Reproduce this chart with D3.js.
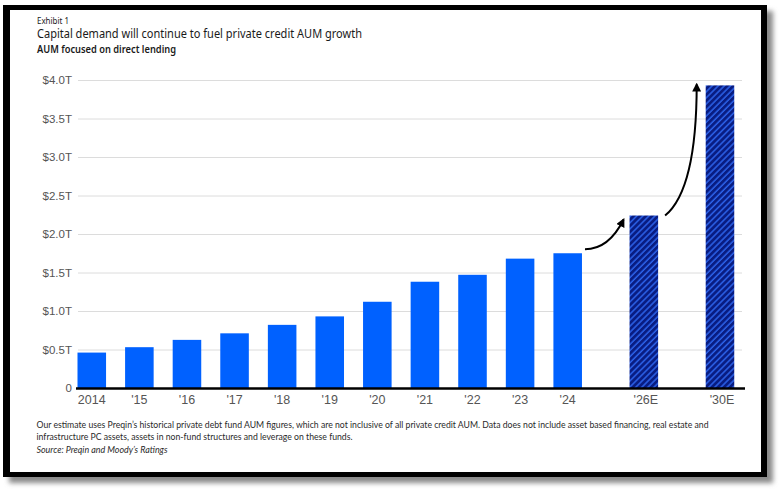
<!DOCTYPE html>
<html lang="en">
<head>
    <meta charset="UTF-8">
    <title>Private credit AUM</title>
    <script src="https://d3js.org/d3.v7.min.js"></script>
</head>
<body style="margin:0;background:#fff;">
<style>
    svg { display: block; }
    .ylab text { font: 11.5px "Liberation Sans", Arial, sans-serif; fill: #555; }
    .xlab text { font: 12.5px "Liberation Sans", Arial, sans-serif; fill: #555; }
    .head { font-family: "Noto Sans", Lato, sans-serif; fill: #1a1a1a; }
    .note { font-family: Lato, "Noto Sans", sans-serif; fill: #2a2a2a; font-size: 9.5px; }
</style>

<div id="chart"></div>

<script>
    // data
    var years = ["2014", "'15", "'16", "'17", "'18", "'19", "'20", "'21", "'22", "'23", "'24"];
    var aum = [0.46, 0.53, 0.625, 0.71, 0.82, 0.93, 1.12, 1.38, 1.47, 1.68, 1.75];
    var estYears = ["'26E", "'30E"];
    var estAum = [2.24, 3.93];
    var yTicks = [0, 0.5, 1, 1.5, 2, 2.5, 3, 3.5, 4];
    var yTickLabels = ["0", "$0.5T", "$1.0T", "$1.5T", "$2.0T", "$2.5T", "$3.0T", "$3.5T", "$4.0T"];

    var W = 780, H = 492;
    var plot = {left: 78, right: 742, top: 80, bottom: 388};
    var estGap = 1.6; // estimate bars sit 1.6 slots apart

    // one row per bar, slot = position along the x axis
    var rows = years.map(function (d, i) {
        return {label: d, value: aum[i], slot: i, est: false};
    });
    estAum.forEach(function (v, k) {
        rows.push({label: estYears[k], value: v, slot: years.length - 1 + estGap * (k + 1), est: true});
    });
    var lastSlot = rows[rows.length - 1].slot;

    var svg = d3.select("#chart").append("svg")
        .attr("width", W)
        .attr("height", H);

    var defs = svg.append("defs");
    defs.append("filter").attr("id", "shadow")
        .attr("x", "-5%").attr("y", "-5%").attr("width", "110%").attr("height", "110%")
        .append("feGaussianBlur").attr("stdDeviation", 2.5);

    var pat = defs.append("pattern").attr("id", "hatch")
        .attr("patternUnits", "userSpaceOnUse")
        .attr("width", 4.3).attr("height", 4.3)
        .attr("patternTransform", "rotate(45)");
    pat.append("rect").attr("width", 4.3).attr("height", 4.3).attr("fill", "#081c82");
    pat.append("line").attr("x1", 1).attr("x2", 1).attr("y1", 0).attr("y2", 4.3)
        .attr("stroke", "#2c62ea").attr("stroke-width", 1.5);

    defs.append("marker").attr("id", "head")
        .attr("viewBox", "0 0 10 10")
        .attr("refX", 8).attr("refY", 5)
        .attr("markerWidth", 4.5).attr("markerHeight", 4.5)
        .attr("markerUnits", "strokeWidth")
        .attr("orient", "auto")
        .append("path").attr("d", "M0,0 L10,5 L0,10 z").attr("fill", "#000");

    // frame with drop shadow
    svg.append("rect").attr("x", 9).attr("y", 11).attr("width", 764).attr("height", 472)
        .attr("fill", "#8a8a8a").attr("filter", "url(#shadow)");
    svg.append("rect").attr("x", 3).attr("y", 5).attr("width", 764).attr("height", 472).attr("fill", "#000");
    svg.append("rect").attr("x", 10).attr("y", 10).attr("width", 751).attr("height", 462).attr("fill", "#fff");

    // headings
    svg.append("text").attr("class", "head").attr("x", 37).attr("y", 23.5)
        .attr("font-size", 8.5).attr("textLength", 32).attr("lengthAdjust", "spacingAndGlyphs")
        .text("Exhibit 1");
    svg.append("text").attr("class", "head").attr("x", 37).attr("y", 37.5)
        .attr("font-size", 12).attr("textLength", 325).attr("lengthAdjust", "spacingAndGlyphs")
        .text("Capital demand will continue to fuel private credit AUM growth");
    svg.append("text").attr("class", "head").attr("x", 37).attr("y", 52.5)
        .attr("font-size", 10).attr("font-weight", 600)
        .attr("textLength", 139).attr("lengthAdjust", "spacingAndGlyphs")
        .text("AUM focused on direct lending");

    var x = d3.scaleLinear().domain([0, lastSlot]).range([77.5, 705.7]);
    var bw = (x(1) - x(0)) * 0.6;
    var y = d3.scaleLinear().domain([0, 4]).range([plot.bottom, plot.top]);

    // gridlines and y labels
    var yAxis = svg.append("g").attr("class", "ylab")
        .attr("transform", "translate(" + plot.left + ",0)")
        .call(d3.axisLeft(y).tickValues(yTicks)
            .tickSize(-(plot.right - plot.left))
            .tickPadding(6)
            .tickFormat(function (d, i) { return yTickLabels[i]; }));
    yAxis.select(".domain").remove();
    yAxis.selectAll("line").attr("stroke", "#dcdcdc").attr("stroke-width", 1);

    // bars
    svg.append("g").selectAll("rect").data(rows).enter().append("rect")
        .attr("x", function (d) { return x(d.slot); })
        .attr("y", function (d) { return y(d.value); })
        .attr("width", bw)
        .attr("height", function (d) { return y(0) - y(d.value); })
        .attr("fill", function (d) { return d.est ? "url(#hatch)" : "#0061ff"; });

    // baseline
    svg.append("line").attr("x1", 76).attr("x2", 745)
        .attr("y1", y(0) + 0.5).attr("y2", y(0) + 0.5)
        .attr("stroke", "#000").attr("stroke-width", 2.5);

    // x labels
    var xl = svg.append("g").attr("class", "xlab");
    xl.selectAll("text").data(rows).enter().append("text")
        .attr("x", function (d) { return x(d.slot) + bw / 2 + (d.est ? 2 : 0); })
        .attr("y", 404)
        .attr("text-anchor", "middle")
        .text(function (d) { return d.label; });

    // growth arrows
    var last = rows[years.length - 1], e1 = rows[years.length], e2 = rows[years.length + 1];
    var p0 = [x(last.slot) + bw + 3, y(last.value) - 4];
    var p2 = [x(e1.slot) - 6, y(e1.value) + 4];
    var c1 = [p0[0] + 0.62 * (p2[0] - p0[0]), p0[1]];
    var q0 = [x(e1.slot) + bw + 7, y(e1.value)];
    var q2 = [x(e2.slot) - 9, y(e2.value) - 1];
    var c2 = [q2[0], q0[1] - 0.2 * (q0[1] - q2[1])];

    var arrows = [[p0, c1, p2], [q0, c2, q2]];
    svg.append("g").selectAll("path").data(arrows).enter().append("path")
        .attr("d", function (a) {
            var p = d3.path();
            p.moveTo(a[0][0], a[0][1]);
            p.quadraticCurveTo(a[1][0], a[1][1], a[2][0], a[2][1]);
            return p.toString();
        })
        .attr("fill", "none")
        .attr("stroke", "#000")
        .attr("stroke-width", 2)
        .attr("marker-end", "url(#head)");

    // footnotes
    var notes = [
        {t: "Our estimate uses Preqin\u2019s historical private debt fund AUM figures, which are not inclusive of all private credit AUM. Data does not include asset based financing, real estate and", y: 427.5, w: 672, it: false},
        {t: "infrastructure PC assets, assets in non-fund structures and leverage on these funds.", y: 440, w: 316, it: false},
        {t: "Source: Preqin and Moody\u2019s Ratings", y: 452.5, w: 131, it: true}
    ];
    svg.append("g").selectAll("text").data(notes).enter().append("text")
        .attr("class", "note")
        .attr("x", 36.5)
        .attr("y", function (d) { return d.y; })
        .attr("font-style", function (d) { return d.it ? "italic" : "normal"; })
        .attr("textLength", function (d) { return d.w; })
        .attr("lengthAdjust", "spacingAndGlyphs")
        .text(function (d) { return d.t; });
</script>

</body>
</html>
